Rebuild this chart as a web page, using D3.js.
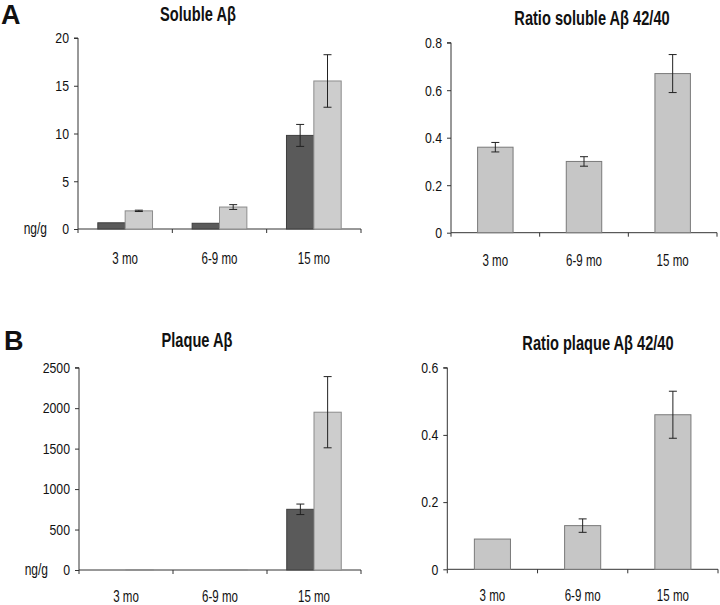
<!DOCTYPE html>
<html><head><meta charset="utf-8">
<script src="https://cdn.jsdelivr.net/npm/d3@7"></script>
<style>
body{margin:0;background:#fff;}
svg{display:block;}
text{font-family:"Liberation Sans",Arial,sans-serif;fill:#111;}
</style>
</head><body>
<svg id="chart" width="720" height="605"></svg>
<script>
const categories = ["3 mo", "6-9 mo", "15 mo"];

// Panel A left: Soluble Aβ (ng/g)
const solubleDark = [0.65, 0.6, 9.8];
const solubleDarkErr = [0, 0, 1.15];
const solubleLight = [1.9, 2.3, 15.5];
const solubleLightErr = [0.07, 0.25, 2.75];
const solubleTicks = [0, 5, 10, 15, 20];

// Panel A right: Ratio soluble Aβ 42/40
const ratioSoluble = [0.36, 0.30, 0.67];
const ratioSolubleErr = [0.02, 0.02, 0.08];
const ratioSolubleTicks = [0, 0.2, 0.4, 0.6, 0.8];

// Panel B left: Plaque Aβ (ng/g)
const plaqueDark = [0, 0, 750];
const plaqueDarkErr = [0, 0, 65];
const plaqueLight = [4, 4, 1950];
const plaqueLightErr = [0, 0, 440];
const plaqueTicks = [0, 500, 1000, 1500, 2000, 2500];

// Panel B right: Ratio plaque Aβ 42/40
const ratioPlaque = [0.09, 0.13, 0.46];
const ratioPlaqueErr = [0, 0.02, 0.07];
const ratioPlaqueTicks = [0, 0.2, 0.4, 0.6];

const svg = d3.select("#chart");

const DARK = {fill: "#5a5a5a", stroke: "#3e3e3e"};
const LIGHT = {fill: "#cdcdcd", stroke: "#8c8c8c"};
const RATIO = {fill: "#c6c6c6", stroke: "#7a7a7a"};

const fmtTick = f => d => d === 0 ? "0" : d3.format(f)(d);

function panel(opt) {
  const g = svg.append("g");
  const x = d3.scaleBand().domain(categories).range([opt.left, opt.right]);
  const y = d3.scaleLinear().domain([0, d3.max(opt.ticks)]).range([opt.bottom, opt.top]);

  // y axis
  const yAxis = d3.axisLeft(y).tickValues(opt.ticks).tickSize(4).tickPadding(5)
    .tickFormat(fmtTick(opt.fmt));
  const ya = g.append("g").attr("transform", `translate(${opt.left},0)`).call(yAxis);
  ya.select(".domain").attr("stroke", "#333").attr("d", `M-4,${y(d3.max(opt.ticks))}H0V${opt.bottom}`);
  ya.selectAll(".tick line").attr("stroke", "#333");
  ya.selectAll("text").style("font-size", "15px").style("font-family", null)
    .attr("fill", "#111").attr("data-sx", 0.82);

  // x axis line + boundary ticks
  const xa = g.append("g");
  xa.append("line").attr("x1", opt.left).attr("x2", opt.right)
    .attr("y1", opt.bottom).attr("y2", opt.bottom).attr("stroke", "#333");
  const bounds = categories.map(c => x(c)).concat([opt.right]);
  xa.selectAll("line.bt").data(bounds).enter().append("line").attr("class", "bt")
    .attr("x1", d => d).attr("x2", d => d)
    .attr("y1", opt.bottom).attr("y2", opt.bottom + 4).attr("stroke", "#333");
  xa.selectAll("text.cat").data(categories).enter().append("text").attr("class", "cat")
    .attr("x", d => x(d) + x.bandwidth() / 2).attr("y", opt.bottom + opt.catDy)
    .attr("text-anchor", "middle").style("font-size", "17px").attr("data-sx", 0.68).text(d => d);

  // bars
  const nSeries = opt.series.length;
  const bw = x.bandwidth() * opt.barFrac;
  opt.series.forEach((s, si) => {
    const offs = x.bandwidth() / 2 - (nSeries * bw) / 2 + si * bw;
    const bars = g.append("g");
    bars.selectAll("rect").data(s.values).enter().append("rect")
      .attr("x", (d, i) => x(categories[i]) + offs)
      .attr("y", d => y(d))
      .attr("width", bw)
      .attr("height", d => opt.bottom - y(d))
      .attr("fill", s.style.fill).attr("stroke", s.style.stroke).attr("stroke-width", 1);
    // error bars
    const eb = g.append("g").attr("stroke", "#222").attr("stroke-width", 1);
    s.values.forEach((v, i) => {
      const e = s.err[i];
      if (!e) return;
      const cx = x(categories[i]) + offs + bw / 2;
      eb.append("line").attr("x1", cx).attr("x2", cx).attr("y1", y(v + e)).attr("y2", y(v - e));
      eb.append("line").attr("x1", cx - 4).attr("x2", cx + 4).attr("y1", y(v + e)).attr("y2", y(v + e));
      eb.append("line").attr("x1", cx - 4).attr("x2", cx + 4).attr("y1", y(v - e)).attr("y2", y(v - e));
    });
  });

  // title
  g.append("text").attr("x", opt.titleX).attr("y", opt.titleY).attr("text-anchor", "middle")
    .style("font-size", "19.5px").style("font-weight", "bold").attr("data-sx", 0.75).text(opt.title);

  if (opt.unit) {
    g.append("text").attr("x", opt.left - 31).attr("y", opt.bottom + 5).attr("text-anchor", "end")
      .style("font-size", "16px").attr("data-sx", 0.75).text(opt.unit);
  }
}

panel({left: 78, right: 361, top: 38, bottom: 229, ticks: solubleTicks, fmt: "d",
  series: [{values: solubleDark, err: solubleDarkErr, style: DARK},
           {values: solubleLight, err: solubleLightErr, style: LIGHT}],
  barFrac: 0.29, title: "Soluble Aβ", titleX: 198, titleY: 21, catDy: 35, unit: "ng/g"});

panel({left: 451, right: 717, top: 42.7, bottom: 232.7, ticks: ratioSolubleTicks, fmt: ".1f",
  series: [{values: ratioSoluble, err: ratioSolubleErr, style: RATIO}],
  barFrac: 0.4, title: "Ratio soluble Aβ 42/40", titleX: 592, titleY: 25, catDy: 33});

panel({left: 79, right: 361, top: 367.7, bottom: 570, ticks: plaqueTicks, fmt: "d",
  series: [{values: plaqueDark, err: plaqueDarkErr, style: DARK},
           {values: plaqueLight, err: plaqueLightErr, style: LIGHT}],
  barFrac: 0.29, title: "Plaque Aβ", titleX: 197, titleY: 347, catDy: 32, unit: "ng/g"});

panel({left: 447.3, right: 718, top: 367.7, bottom: 569.3, ticks: ratioPlaqueTicks, fmt: ".1f",
  series: [{values: ratioPlaque, err: ratioPlaqueErr, style: RATIO}],
  barFrac: 0.4, title: "Ratio plaque Aβ 42/40", titleX: 598, titleY: 350, catDy: 32});

// condense axis/title text horizontally (narrow typeface look)
svg.selectAll("text").each(function () {
  const t = d3.select(this);
  const sx = +t.attr("data-sx") || 1;
  const x0 = +t.attr("x") || 0;
  t.attr("transform", `translate(${x0},0) scale(${sx},1) translate(${-x0},0)`);
});

svg.append("text").attr("x", 1).attr("y", 24)
  .style("font-size", "27px").style("font-weight", "bold").text("A");
svg.append("text").attr("x", 4).attr("y", 350)
  .style("font-size", "27px").style("font-weight", "bold").text("B");
</script>
</body></html>
